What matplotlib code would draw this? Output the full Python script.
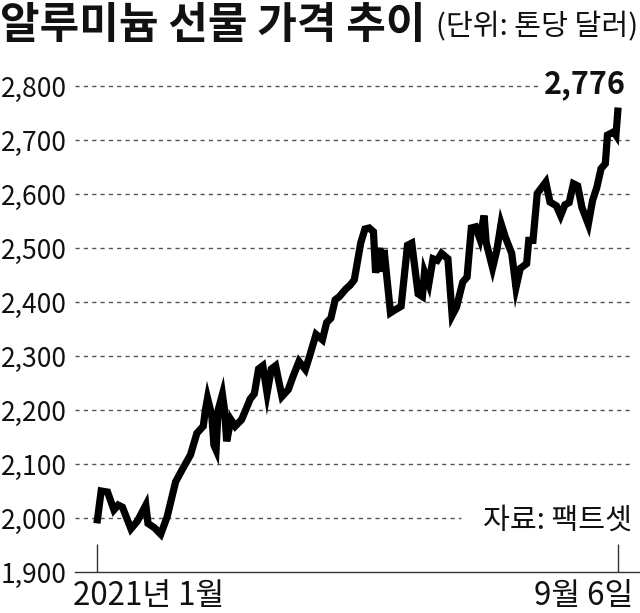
import matplotlib
matplotlib.use("Agg")
import matplotlib.pyplot as plt

plt.rcParams['font.family'] = ['Noto Sans CJK KR', 'DejaVu Sans']

# ---- data (day offset from 2021-01-04, price USD/ton) ----
days = [0, 2, 5, 8, 10, 12, 16, 19, 23, 24, 27, 30, 33, 37, 40, 44, 47, 50, 51, 52,
        54, 55, 56, 57, 59, 60, 61, 63, 65, 68, 71, 72, 74, 76, 78, 80, 82, 84, 87, 90,
        92, 95, 98, 100, 103, 106, 108, 110, 112, 114, 117, 119, 121, 124, 126, 128, 130, 131, 133, 134,
        135, 138, 140, 143, 146, 148, 151, 153, 154, 156, 158, 160, 162, 165, 167, 169, 172, 174, 176, 178,
        180, 182, 183, 186, 188, 190, 192, 195, 197, 199, 202, 203, 205, 207, 211, 213, 216, 218, 220, 222,
        224, 226, 228, 231, 233, 235, 237, 239, 240, 243, 244, 245]
prices = [1990, 2050, 2048, 2015, 2024, 2020, 1980, 1994, 2024, 1990, 1982, 1970, 2002, 2067, 2089, 2117, 2157, 2170, 2200, 2222,
          2190, 2135, 2126, 2200, 2229, 2200, 2142, 2182, 2170, 2182, 2210, 2220, 2230, 2276, 2282, 2231, 2276, 2282, 2225, 2238,
          2260, 2290, 2275, 2300, 2340, 2330, 2362, 2370, 2404, 2410, 2424, 2431, 2441, 2509, 2535, 2537, 2530, 2454, 2500, 2456,
          2496, 2380, 2385, 2392, 2505, 2509, 2415, 2410, 2455, 2433, 2480, 2477, 2490, 2480, 2375, 2390, 2437, 2446, 2537, 2539,
          2517, 2560, 2510, 2463, 2496, 2545, 2520, 2490, 2427, 2462, 2471, 2514, 2514, 2601, 2622, 2585, 2578, 2560, 2580, 2584,
          2619, 2615, 2575, 2544, 2588, 2612, 2647, 2656, 2709, 2715, 2709, 2760]
yticks = [1900, 2000, 2100, 2200, 2300, 2400, 2500, 2600, 2700, 2800]
ytick_labels = ['1,900', '2,000', '2,100', '2,200', '2,300', '2,400', '2,500', '2,600', '2,700', '2,800']
title = '알루미늄 선물 가격 추이'
unit = '(단위: 톤당 달러)'
source = '자료: 팩트셋'
x_start_label = '2021년 1월'
x_end_label = '9월 6일'
last_label = '2,776'

W, H = 640, 613
fig = plt.figure(figsize=(W / 100, H / 100), dpi=100)

ax_left, ax_right, ax_top, ax_bottom = 75, 640, 80, 572
ax = fig.add_axes([ax_left / W, 1 - ax_bottom / H, (ax_right - ax_left) / W, (ax_bottom - ax_top) / H])
ax.set_xlim(-10.3, 255.3)
ax.set_ylim(1900, 2811)

# grid lines
for v in yticks[1:]:
    if v == 2800:
        xmax = (538 - ax_left) / (ax_right - ax_left)
    elif v == 2000:
        xmax = (461 - ax_left) / (ax_right - ax_left)
    else:
        xmax = (632 - ax_left) / (ax_right - ax_left)
    ax.axhline(v, xmin=0, xmax=xmax, color='#555555', lw=1.0, linestyle=(0, (3, 3)), zorder=1)

ax.plot(days, prices, color='black', lw=5.2, solid_joinstyle='miter', solid_capstyle='butt', zorder=3)

for s in ['left', 'right', 'top']:
    ax.spines[s].set_visible(False)
ax.spines['bottom'].set_color('#333333')
ax.spines['bottom'].set_linewidth(1.0)

ax.set_yticks(yticks)
ax.set_yticklabels(ytick_labels, fontsize=19, color='#111111')
ax.tick_params(axis='y', length=0, pad=6)
ax.set_xticks([days[0], days[-1]])
ax.set_xticklabels([])
ax.tick_params(axis='x', direction='in', length=20, width=1.0, color='#333333')

def ftext(x, y, s, **kw):
    fig.text(x / W, 1 - y / H, s, **kw)

ftext(0, 25, title, fontsize=31, fontweight='bold', va='center', ha='left', color='#111111')
ftext(638, 27, unit, fontsize=21, va='center', ha='right', color='#111111')
ftext(626, 84, last_label, fontsize=22, fontweight='bold', va='center', ha='right', color='#111111')
ftext(632, 521, source, fontsize=21, va='center', ha='right', color='#111111')
ftext(73, 596, x_start_label, fontsize=22.5, va='center', ha='left', color='#111111')
ftext(633, 596, x_end_label, fontsize=22.5, va='center', ha='right', color='#111111')

fig.savefig('out.png', dpi=100, facecolor='white')
